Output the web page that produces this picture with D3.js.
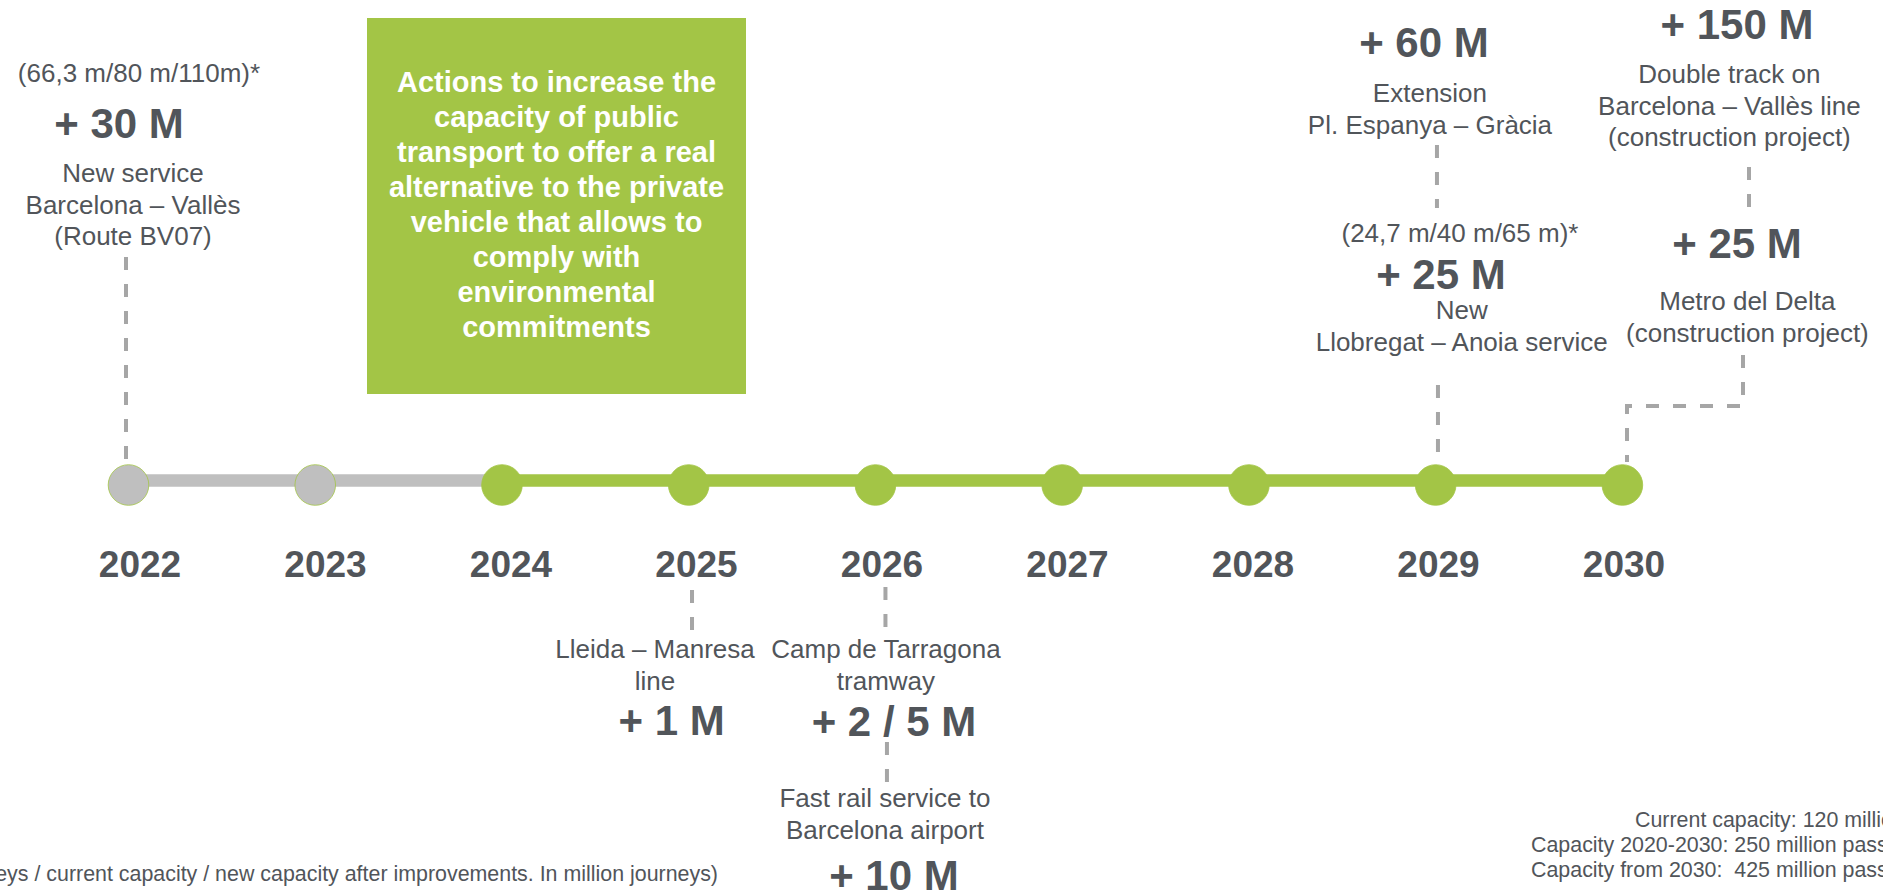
<!DOCTYPE html>
<html lang="en">
<head>
<meta charset="UTF-8">
<title>Public transport capacity timeline</title>
<style>
  body { margin: 0; background: #fff; }
  svg { display: block; overflow: hidden; }
  svg text { font-family: 'Liberation Sans', Arial, sans-serif; white-space: pre; }
</style>
<script src="https://d3js.org/d3.v7.min.js"></script>
</head>
<body>
<svg width="1883" height="895"></svg>
<script>
// timeline data
const years = [2022, 2023, 2024, 2025, 2026, 2027, 2028, 2029, 2030];
const doneYears = [2022, 2023];

// projects, in the same order everywhere
const projectYears = [2022, 2025, 2026, 2026, 2029, 2029, 2030, 2030];
const gains = ["+ 30 M", "+ 1 M", "+ 2 / 5 M", "+ 10 M", "+ 25 M", "+ 60 M", "+ 25 M", "+ 150 M"];
const projectNames = [
  ["New service", "Barcelona – Vallès", "(Route BV07)"],
  ["Lleida – Manresa", "line"],
  ["Camp de Tarragona", "tramway"],
  ["Fast rail service to", "Barcelona airport"],
  ["New", "Llobregat – Anoia service"],
  ["Extension", "Pl. Espanya – Gràcia"],
  ["Metro del Delta", "(construction project)"],
  ["Double track on", "Barcelona – Vallès line", "(construction project)"]
];
const journeyNotes = ["(66,3 m/80 m/110m)*", "", "", "", "(24,7 m/40 m/65 m)*", "", "", ""];

const boxLines = [
  "Actions to increase the", "capacity of public", "transport to offer a real",
  "alternative to the private", "vehicle that allows to", "comply with",
  "environmental", "commitments"
];
const footnote = "*(Annual journeys / current capacity / new capacity after improvements. In million journeys)";
const capacityLines = [
  "Current capacity: 120 million passengers",
  "Capacity 2020-2030: 250 million passengers",
  "Capacity from 2030:  425 million passengers"
];

const green = "#a3c546", grey = "#bfbfbf", ink = "#51555a", dash = "#a6a6a6";

const svg = d3.select("svg");

const x = d3.scaleLinear().domain([2022, 2030]).range([128.5, 1622.4]);
const xLabel = d3.scaleLinear().domain([2022, 2030]).range([140, 1624]);
const lineY = 480.5, dotY = 485;

// where each project's texts sit, relative to its year
const layout = [
  {noteDx: 10.5, noteY: 82, gainDx: -9.5, gainY: 138, nameDx: 4.5, nameY: 182},
  {gainDx: -17, gainY: 735, nameDx: -33.7, nameY: 658},
  {gainDx: 18.5, gainY: 736, nameDx: 10.5, nameY: 658},
  {gainDx: 18.5, gainY: 890, nameDx: 9.5, nameY: 807},
  {noteDx: 24.3, noteY: 242, gainDx: 5.3, gainY: 289, nameDx: 26, nameY: 319},
  {gainDx: -11.7, gainY: 57, nameDx: -5.7, nameY: 102},
  {gainDx: 114.6, gainY: 258, nameDx: 125, nameY: 310},
  {gainDx: 114.6, gainY: 39, nameDx: 107, nameY: 83}
];

// dashed connectors, points as [dx from year, y]
const connectors = [
  {year: 2022, pts: [[-2.5, 257], [-2.5, 466]]},
  {year: 2025, pts: [[3.3, 590], [3.3, 634]]},
  {year: 2026, pts: [[10, 587], [10, 630]]},
  {year: 2026, pts: [[11.5, 742], [11.5, 786]]},
  {year: 2029, pts: [[1.3, 145], [1.3, 208]]},
  {year: 2029, pts: [[2.3, 385], [2.3, 462]]},
  {year: 2030, pts: [[126.6, 167], [126.6, 213]]},
  {year: 2030, pts: [[120.6, 355], [120.6, 406], [4.6, 406], [4.6, 462]]}
];

// green box
svg.append("rect")
  .attr("x", 367).attr("y", 18)
  .attr("width", 379).attr("height", 376)
  .attr("fill", green);

svg.append("g").selectAll("text")
  .data(boxLines)
  .enter().append("text")
  .attr("x", 556.5)
  .attr("y", (d, i) => 92 + i * 35)
  .attr("text-anchor", "middle")
  .attr("fill", "#fff")
  .style("font-size", "29px")
  .style("font-weight", "700")
  .text(d => d);

// connectors
const line = d3.line();
svg.append("g").selectAll("path")
  .data(connectors)
  .enter().append("path")
  .attr("d", c => line(c.pts.map(p => [x(c.year) + p[0], p[1]])))
  .attr("fill", "none")
  .attr("stroke", dash)
  .attr("stroke-width", 4)
  .attr("stroke-dasharray", "13,14");

// timeline bar
const last = years[years.length - 1];
const pivot = years[doneYears.length];
svg.append("line")
  .attr("x1", x(years[0])).attr("x2", x(pivot))
  .attr("y1", lineY).attr("y2", lineY)
  .attr("stroke", grey).attr("stroke-width", 12.3);
svg.append("line")
  .attr("x1", x(pivot)).attr("x2", x(last))
  .attr("y1", lineY).attr("y2", lineY)
  .attr("stroke", green).attr("stroke-width", 12.3);

svg.append("g").selectAll("circle")
  .data(years)
  .enter().append("circle")
  .attr("cx", d => x(d))
  .attr("cy", dotY)
  .attr("r", 20.3)
  .attr("fill", d => doneYears.includes(d) ? grey : green)
  .attr("stroke", green)
  .attr("stroke-width", 0.8);

svg.append("g").selectAll("text")
  .data(years)
  .enter().append("text")
  .attr("x", d => xLabel(d))
  .attr("y", 577)
  .attr("text-anchor", "middle")
  .attr("fill", ink)
  .style("font-size", "37px")
  .style("font-weight", "700")
  .text(d => d);

// project annotations
const proj = svg.append("g").selectAll("g")
  .data(projectYears.map((y, i) => ({year: y, gain: gains[i], names: projectNames[i], note: journeyNotes[i], pos: layout[i]})))
  .enter().append("g");

proj.filter(d => d.note)
  .append("text")
  .attr("x", d => x(d.year) + d.pos.noteDx)
  .attr("y", d => d.pos.noteY)
  .attr("text-anchor", "middle")
  .attr("fill", ink)
  .style("font-size", "26px")
  .text(d => d.note);

proj.append("text")
  .attr("x", d => x(d.year) + d.pos.gainDx)
  .attr("y", d => d.pos.gainY)
  .attr("text-anchor", "middle")
  .attr("fill", ink)
  .style("font-size", "42px")
  .style("font-weight", "700")
  .text(d => d.gain);

proj.each(function(d) {
  d3.select(this).selectAll("text.name")
    .data(d.names)
    .enter().append("text")
    .attr("class", "name")
    .attr("x", x(d.year) + d.pos.nameDx)
    .attr("y", (t, i) => d.pos.nameY + i * 31.6)
    .attr("text-anchor", "middle")
    .attr("fill", ink)
    .style("font-size", "26px")
    .text(t => t);
});

// footnote and capacity summary
svg.append("text")
  .attr("x", 718).attr("y", 881)
  .attr("text-anchor", "end")
  .attr("fill", ink)
  .style("font-size", "21.4px")
  .text(footnote);

svg.append("g").selectAll("text")
  .data(capacityLines)
  .enter().append("text")
  .attr("x", (d, i) => i === 0 ? 1635 : 1531)
  .attr("y", (d, i) => 827 + i * 25)
  .attr("fill", ink)
  .style("font-size", "21.4px")
  .text(d => d);
</script>
</body>
</html>
